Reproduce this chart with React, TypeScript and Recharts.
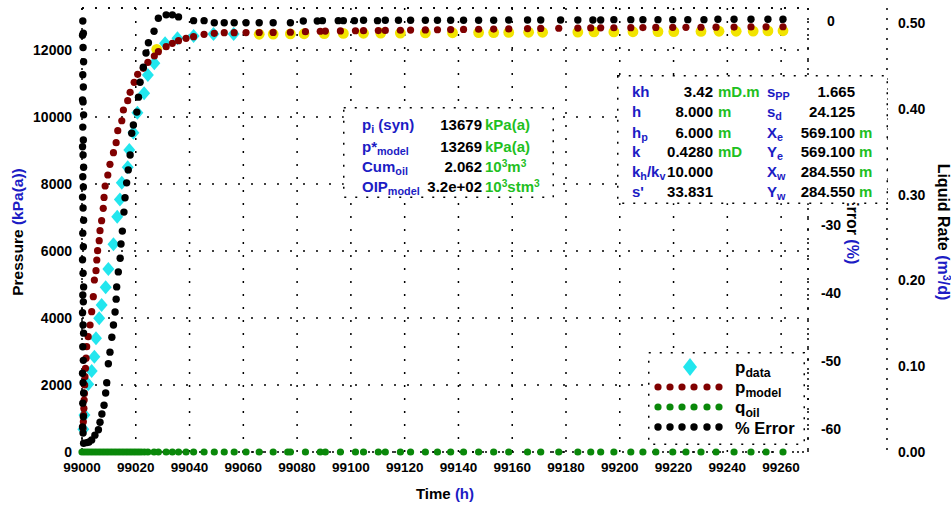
import React from "react";
import { ScatterChart, Scatter, XAxis, YAxis, CartesianGrid, ReferenceLine } from "recharts";

const W = 951;
const H = 509;
const T0 = 99000;
const FONT = "'Liberation Sans', Arial, Helvetica, sans-serif";
const BLUE = "#1c1cc4";
const GREEN = "#1fc01f";

const timeTicks = [99000, 99020, 99040, 99060, 99080, 99100, 99120, 99140, 99160, 99180, 99200, 99220, 99240, 99260];
const pressureTicks = [0, 2000, 4000, 6000, 8000, 10000, 12000];
// -10 and -20 sit under the parameter box
const errorTicks = [0, -30, -40, -50, -60];
const rateTicks = [0, 0.1, 0.2, 0.3, 0.4, 0.5];

// hours since 99000 h
const pDataHours = [0.5, 0.9, 2.3, 3.6, 4.6, 5.2, 6.4, 7.3, 8.8, 9.8, 11.7, 13.1, 14.1, 14.8, 17.0, 17.6, 19.1, 20.6, 23.1, 24.5, 26.9, 30.9, 35.5, 41.5, 48.9, 56.4];
const pDataKpa = [676, 1104, 2020, 2418, 2845, 3393, 3990, 4388, 4916, 5462, 6200, 7024, 7540, 8040, 8498, 9015, 9531, 10128, 10708, 11254, 11602, 12199, 12348, 12418, 12478, 12478];

// data points shown in yellow (not used in the match)
const pOffHours = [27.8, 65.9, 71.1, 77.5, 82.6, 90.1, 97.2, 104.7, 111.1, 118.4, 127.7, 137.8, 147.5, 153.1, 158.7, 166.1, 171.3, 184.4, 190.4, 197.8, 204.9, 214.2, 220.1, 230.2, 236.9, 243.3, 249.6, 255.1, 260.7];
const pOffKpa = [12020, 12470, 12475, 12480, 12485, 12490, 12495, 12500, 12505, 12505, 12510, 12515, 12520, 12520, 12525, 12530, 12530, 12535, 12540, 12540, 12545, 12550, 12550, 12555, 12560, 12560, 12565, 12570, 12575];

const pModelHours = [
  0.4, 0.5, 0.6, 0.7, 0.8, 0.9, 1.0, 1.1, 1.3, 1.5,
  1.75, 2.3, 3.0, 3.6, 4.2, 4.6, 5.2, 5.5, 5.8, 6.4,
  6.7, 7.3, 7.9, 8.2, 8.6, 9.6, 10.4, 11.7, 12.7, 13.3,
  14.8, 15.4, 17.0, 17.9, 19.4, 20.7, 22.8, 24.5, 26.9, 28.4,
  31.3, 33.6, 35.9, 38.7, 41.5, 45.4, 49.2, 52.9, 56.6, 61.0,
  65.9, 71.1, 77.5, 83.1, 88.6, 90.5, 96.1, 101.7, 104.7, 110.2,
  112.8, 118.4, 122.2, 127.7, 132.2, 137.1, 141.9, 147.5, 153.1, 158.7,
  165.7, 170.6, 177.3, 184.4, 189.2, 192.9, 197.8, 204.1, 208.6, 213.4,
  219.7, 224.6, 230.2, 235.8, 242.5, 248.8, 254.4, 260.7,
];
const pModelKpa = [
  700, 900, 1100, 1300, 1550, 1750, 2000, 2250, 2500, 2800,
  3143, 3442, 3791, 4188, 4636, 5134, 5413, 5731, 6010, 6308,
  6606, 6905, 7274, 7600, 7940, 8269, 8588, 8935, 9233, 9591,
  9889, 10209, 10487, 10737, 11035, 11274, 11453, 11632, 11821, 11950,
  12099, 12199, 12279, 12348, 12398, 12468, 12498, 12518, 12518, 12520,
  12522, 12525, 12530, 12547, 12560, 12565, 12570, 12575, 12578, 12580,
  12585, 12590, 12595, 12600, 12605, 12610, 12615, 12620, 12625, 12630,
  12640, 12645, 12650, 12655, 12660, 12662, 12665, 12668, 12670, 12673,
  12676, 12678, 12680, 12683, 12686, 12689, 12692, 12695,
];

const qOilHours = [
  0, 1, 2, 3, 4, 5, 6, 7, 8, 9,
  10, 11, 12, 13, 14, 15, 16, 17, 18, 19,
  20, 21, 22, 23.2, 24.5, 26.8, 28.4, 31.3, 33.6, 35.9,
  38.7, 41.5, 45.4, 49.2, 52.9, 56.6, 61.0, 65.9, 71.1, 76.5,
  77.5, 83.1, 88.6, 90.5, 96.1, 101.7, 104.7, 110.2, 112.8, 118.4,
  122.2, 127.7, 132.2, 137.1, 141.9, 147.5, 153.1, 158.7, 165.7, 170.6,
  177.3, 184.4, 189.2, 192.9, 197.8, 204.1, 208.6, 213.4, 219.7, 224.6,
  230.2, 235.8, 242.5, 248.8, 254.4, 260.7,
];
const qOilRate = [
  0, 0, 0, 0, 0, 0, 0, 0, 0, 0,
  0, 0, 0, 0, 0, 0, 0, 0, 0, 0,
  0, 0, 0, 0, 0, 0, 0, 0, 0, 0,
  0, 0, 0, 0, 0, 0, 0, 0, 0, 0,
  0, 0, 0, 0, 0, 0, 0, 0, 0, 0,
  0, 0, 0, 0, 0, 0, 0, 0, 0, 0,
  0, 0, 0, 0, 0, 0, 0, 0, 0, 0,
  0, 0, 0, 0, 0, 0,
];

const errHours = [
  0.3, 0.5, 0.2, 0.4, 0.6, 0.3, 0.5, 0.2, 0.4, 0.6,
  0.3, 0.5, 0.2, 0.4, 0.6, 0.3, 0.5, 0.2, 0.4, 0.6,
  0.3, 0.5, 0.2, 0.4, 0.6, 0.3, 0.5, 0.2, 0.4, 0.6,
  0.3, 0.5, 0.2, 0.4, 0.6, 0.3, 0.5, 0.2, 0.4, 0.6,
  1.8, 2.6, 3.6, 4.8, 6.1, 6.7, 7.4, 8.2, 8.8, 9.2,
  9.8, 10.4, 11.1, 11.7, 12.3, 12.7, 12.9, 13.5, 14.2, 14.5,
  15.0, 15.6, 16.0, 16.6, 17.2, 17.9, 18.5, 19.1, 20.4, 21.0,
  21.6, 22.8, 23.8, 24.7, 26.8, 28.4, 31.3, 33.6, 35.9, 41.5,
  45.4, 49.2, 52.9, 56.6, 61.0, 65.9, 71.1, 77.5, 82.3, 87.5,
  89.4, 95.3, 97.2, 101.3, 104.7, 109.9, 112.8, 117.7, 122.2, 127.7,
  132.2, 137.1, 141.9, 147.5, 153.1, 158.7, 165.7, 170.6, 178.0, 184.4,
  190.0, 192.9, 197.8, 204.1, 208.6, 214.2, 219.7, 225.3, 231.3, 236.5,
  242.5, 248.8, 255.1, 260.7,
];
const errPct = [
  0, -1.8, -2.1, -3.9, -6.0, -7.9, -9.7, -11.6, -11.9, -13.8,
  -15.6, -17.5, -18.5, -19.7, -21.5, -22.9, -24.4, -25.9, -27.5, -29.3,
  -31.2, -33.2, -35.1, -37.1, -39.1, -40.3, -41.3, -42.9, -44.7, -45.9,
  -47.9, -49.9, -51.8, -53.2, -54.7, -56.2, -58.2, -59.7, -60.6, -62.1,
  -62.0, -61.9, -61.6, -60.9, -60.1, -59.0, -57.8, -56.5, -54.7, -53.2,
  -50.4, -48.7, -46.5, -44.7, -42.8, -40.9, -39.1, -36.9, -34.9, -32.8,
  -30.9, -28.1, -26.0, -23.8, -21.9, -19.7, -16.5, -15.3, -13.4, -11.2,
  -9.0, -6.8, -4.7, -3.2, -1.5, 0.4, 0.9, 0.9, 0.6, 0.05,
  0.05, -0.25, -0.25, -0.25, -0.25, -0.25, -0.25, -0.25, 0.0, 0.0,
  0.05, 0.05, 0.05, 0.05, 0.1, 0.05, 0.1, 0.1, 0.1, 0.1,
  0.1, 0.1, 0.1, 0.1, 0.1, 0.15, 0.15, 0.15, 0.15, 0.15,
  0.15, 0.15, 0.2, 0.2, 0.2, 0.2, 0.2, 0.2, 0.2, 0.25,
  0.25, 0.25, 0.25, 0.25,
];

const fitValues = ["13679", "13269", "2.062", "3.2e+02"];
const paramValues1 = ["3.42", "8.000", "6.000", "0.4280", "10.000", "33.831"];
const paramValues2 = ["1.665", "24.125", "569.100", "569.100", "284.550", "284.550"];

const build = (hours: number[], vals: number[]) => hours.map((h, i) => ({ t: T0 + h, v: vals[i] }));

const pData = build(pDataHours, pDataKpa);
const pOff = build(pOffHours, pOffKpa);
const pModel = build(pModelHours, pModelKpa);
const qOil = build(qOilHours, qOilRate);
const err = build(errHours, errPct);

const dotted = { stroke: "#000", strokeWidth: 1.5, strokeDasharray: "2 8" };
const tickFont = { fontSize: 14, fontWeight: 700, fontFamily: FONT, fill: "#000" };

const XTick = (p: any) => (
  <text x={p.x} y={p.y} dy="0.71em" textAnchor="middle" {...tickFont} fontSize={13.5}>{p.payload.value}</text>
);
const LeftTick = (p: any) => (
  <text x={p.x} y={p.y} dy="0.355em" textAnchor="end" {...tickFont}>{p.payload.value}</text>
);
const ErrTick = (p: any) => (
  <text x={p.x} y={p.y} dy="0.355em" textAnchor="middle" {...tickFont}>{p.payload.value}</text>
);
const RateTick = (p: any) => (
  <text x={p.x} y={p.y} dy="0.355em" textAnchor="start" {...tickFont}>{Number(p.payload.value).toFixed(2)}</text>
);

const diamond = (p: any) => (
  <polygon points={`${p.cx},${p.cy - 7} ${p.cx + 6},${p.cy} ${p.cx},${p.cy + 7} ${p.cx - 6},${p.cy}`} fill="#22e6ee" />
);
const yellowDot = (p: any) => <circle cx={p.cx} cy={p.cy} r={5.4} fill="#f2e400" />;
const redDot = (p: any) => <circle cx={p.cx} cy={p.cy} r={3.6} fill="#800000" />;
const greenDot = (p: any) => <circle cx={p.cx} cy={p.cy} r={3.6} fill="#0a880a" />;
const blackDot = (p: any) => <circle cx={p.cx} cy={p.cy} r={3.7} fill="#000" />;

const Sub = ({ children }: any) => <span style={{ fontSize: "0.72em", position: "relative", top: "0.3em" }}>{children}</span>;
const Sup = ({ children }: any) => <span style={{ fontSize: "0.68em", position: "relative", top: "-0.45em" }}>{children}</span>;

function Txt({ x, y, right, color = "#000", size = 15, children }: any) {
  const style: React.CSSProperties = {
    position: "absolute",
    top: y - 10,
    lineHeight: "20px",
    fontSize: size,
    fontWeight: 700,
    color,
    whiteSpace: "nowrap",
    fontFamily: FONT,
  };
  if (right !== undefined) style.right = W - right;
  else style.left = x;
  return <div style={style}>{children}</div>;
}

function DottedBox({ left, top, width, height }: any) {
  return (
    <svg width={width} height={height} style={{ position: "absolute", left, top }}>
      <rect x={0.75} y={0.75} width={width - 1.5} height={height - 1.5} fill="#fff" stroke="#000" strokeWidth={1.5} strokeDasharray="2 9" />
    </svg>
  );
}

function Title({ x, y, rotate, size = 16, children }: any) {
  return (
    <div
      style={{
        position: "absolute",
        left: x,
        top: y,
        transform: `translate(-50%, -50%) rotate(${rotate}deg)`,
        fontSize: size,
        fontWeight: 700,
        fontFamily: FONT,
        whiteSpace: "nowrap",
        color: "#000",
      }}
    >
      {children}
    </div>
  );
}

export default function App() {
  const rows1 = [125, 146.5, 167, 187];
  const rows2 = [92, 112, 132.5, 152, 172, 192];
  return (
    <div style={{ position: "absolute", left: 0, top: 0, width: W, height: H, background: "#fff", fontFamily: FONT }}>
      <ScatterChart width={W} height={H} margin={{ top: 8, right: 0, bottom: 0, left: 0 }}>
        <CartesianGrid yAxisId="p" stroke="#000" strokeWidth={1.5} strokeDasharray="2 11" />
        <XAxis
          type="number"
          dataKey="t"
          domain={[99000, 99270]}
          ticks={timeTicks}
          interval={0}
          height={57}
          tickSize={0}
          tickMargin={10}
          tickLine={false}
          axisLine={dotted}
          tick={XTick}
        />
        <YAxis
          yAxisId="p"
          type="number"
          dataKey="v"
          orientation="left"
          domain={[0, 13254]}
          ticks={pressureTicks}
          interval={0}
          width={82}
          tickSize={0}
          tickMargin={10}
          tickLine={false}
          axisLine={dotted}
          tick={LeftTick}
        />
        <YAxis
          yAxisId="err"
          type="number"
          dataKey="v"
          orientation="right"
          domain={[-63.38, 1.91]}
          ticks={errorTicks}
          interval={0}
          width={79}
          tickSize={0}
          tickMargin={23}
          tickLine={false}
          axisLine={dotted}
          tick={ErrTick}
        />
        <YAxis
          yAxisId="rate"
          type="number"
          dataKey="v"
          orientation="right"
          domain={[0, 0.5175]}
          ticks={rateTicks}
          interval={0}
          width={64}
          tickSize={0}
          tickMargin={11}
          tickLine={false}
          axisLine={dotted}
          tick={RateTick}
        />
        <ReferenceLine yAxisId="p" y={13254} stroke="#000" strokeWidth={1.5} strokeDasharray="2 11" />
        <Scatter yAxisId="p" data={pOff} shape={yellowDot} isAnimationActive={false} />
        <Scatter yAxisId="p" data={pData} shape={diamond} isAnimationActive={false} />
        <Scatter yAxisId="p" data={pModel} shape={redDot} isAnimationActive={false} />
        <Scatter yAxisId="err" data={err} shape={blackDot} isAnimationActive={false} />
        <Scatter yAxisId="rate" data={qOil} shape={greenDot} isAnimationActive={false} />
      </ScatterChart>

      <Title x={18} y={232} rotate={-90} size={15.5}>
        Pressure <span style={{ color: BLUE }}>(kPa(a))</span>
      </Title>
      <Title x={445} y={493} rotate={0} size={15}>
        Time <span style={{ color: BLUE }}>(h)</span>
      </Title>
      <Title x={943} y={232} rotate={90}>
        Liquid Rate <span style={{ color: BLUE }}>(m<Sup>3</Sup>/d)</span>
      </Title>
      <Title x={852} y={230} rotate={90}>
        Error <span style={{ color: BLUE }}>(%)</span>
      </Title>

      <DottedBox left={343} top={107} width={211} height={91} />
      <Txt x={362} y={rows1[0]} color={BLUE}>p<Sub>i</Sub> (syn)</Txt>
      <Txt x={362} y={rows1[1]} color={BLUE}>p*<Sub>model</Sub></Txt>
      <Txt x={362} y={rows1[2]} color={BLUE}>Cum<Sub>oil</Sub></Txt>
      <Txt x={362} y={rows1[3]} color={BLUE}>OIP<Sub>model</Sub></Txt>
      {fitValues.map((v, i) => (
        <Txt key={v + i} right={482} y={rows1[i]}>{v}</Txt>
      ))}
      <Txt x={485} y={rows1[0]} color={GREEN}>kPa(a)</Txt>
      <Txt x={485} y={rows1[1]} color={GREEN}>kPa(a)</Txt>
      <Txt x={485} y={rows1[2]} color={GREEN}>10<Sup>3</Sup>m<Sup>3</Sup></Txt>
      <Txt x={485} y={rows1[3]} color={GREEN}>10<Sup>3</Sup>stm<Sup>3</Sup></Txt>

      <DottedBox left={617} top={75} width={271} height={129} />
      <Txt x={632} y={rows2[0]} color={BLUE}>kh</Txt>
      <Txt x={632} y={rows2[1]} color={BLUE}>h</Txt>
      <Txt x={632} y={rows2[2]} color={BLUE}>h<Sub>p</Sub></Txt>
      <Txt x={632} y={rows2[3]} color={BLUE}>k</Txt>
      <Txt x={632} y={rows2[4]} color={BLUE}>k<Sub>h</Sub>/k<Sub>v</Sub></Txt>
      <Txt x={632} y={rows2[5]} color={BLUE}>s'</Txt>
      {paramValues1.map((v, i) => (
        <Txt key={"a" + i} right={713} y={rows2[i]}>{v}</Txt>
      ))}
      <Txt x={718} y={rows2[0]} color={GREEN}>mD.m</Txt>
      <Txt x={718} y={rows2[1]} color={GREEN}>m</Txt>
      <Txt x={718} y={rows2[2]} color={GREEN}>m</Txt>
      <Txt x={718} y={rows2[3]} color={GREEN}>mD</Txt>
      <Txt x={767} y={rows2[0]} color={BLUE}>s<Sub>PP</Sub></Txt>
      <Txt x={767} y={rows2[1]} color={BLUE}>s<Sub>d</Sub></Txt>
      <Txt x={767} y={rows2[2]} color={BLUE}>X<Sub>e</Sub></Txt>
      <Txt x={767} y={rows2[3]} color={BLUE}>Y<Sub>e</Sub></Txt>
      <Txt x={767} y={rows2[4]} color={BLUE}>X<Sub>w</Sub></Txt>
      <Txt x={767} y={rows2[5]} color={BLUE}>Y<Sub>w</Sub></Txt>
      {paramValues2.map((v, i) => (
        <Txt key={"b" + i} right={855} y={rows2[i]}>{v}</Txt>
      ))}
      <Txt x={859} y={rows2[2]} color={GREEN}>m</Txt>
      <Txt x={859} y={rows2[3]} color={GREEN}>m</Txt>
      <Txt x={859} y={rows2[4]} color={GREEN}>m</Txt>
      <Txt x={859} y={rows2[5]} color={GREEN}>m</Txt>

      <DottedBox left={648} top={352} width={157} height={93} />
      <svg width={157} height={93} style={{ position: "absolute", left: 648, top: 352 }}>
        <polygon points="42,6 49,15 42,24 35,15" fill="#22e6ee" />
        {[10, 22, 34, 46, 59, 71].map((x) => (
          <g key={x}>
            <circle cx={x} cy={35} r={3.6} fill="#800000" />
            <circle cx={x} cy={55} r={3.6} fill="#0a880a" />
            <circle cx={x} cy={75} r={3.7} fill="#000" />
          </g>
        ))}
      </svg>
      <Txt x={735} y={368} size={17}>p<Sub>data</Sub></Txt>
      <Txt x={735} y={388} size={17}>p<Sub>model</Sub></Txt>
      <Txt x={735} y={408} size={17}>q<Sub>oil</Sub></Txt>
      <Txt x={735} y={428} size={16.5}>% Error</Txt>
    </div>
  );
}
